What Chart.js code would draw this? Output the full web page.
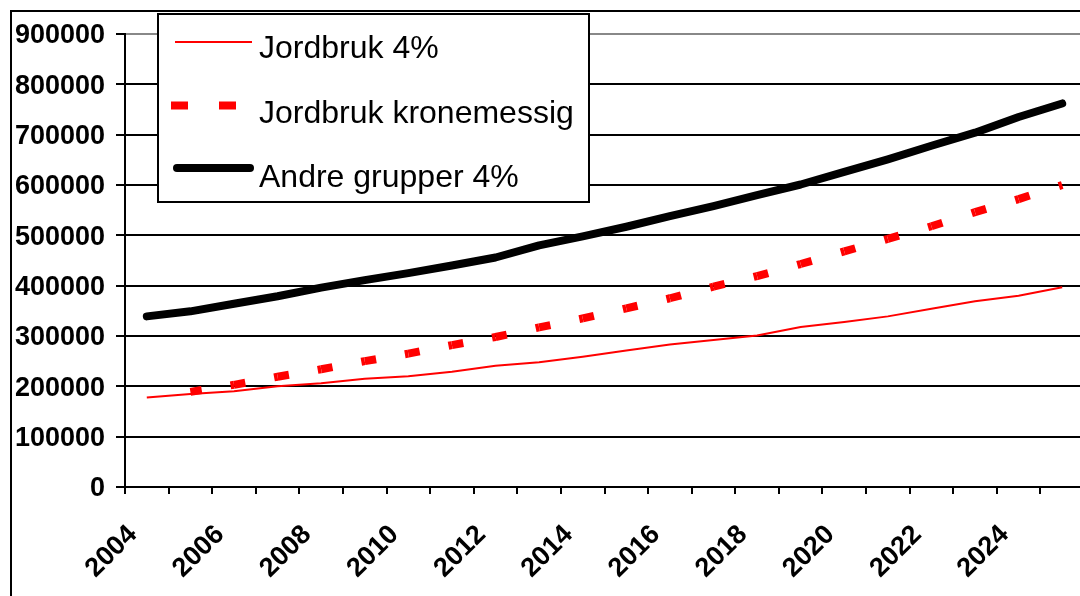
<!DOCTYPE html>
<html>
<head>
<meta charset="utf-8">
<script src="https://cdn.jsdelivr.net/npm/chart.js@4.4.1/dist/chart.umd.min.js"></script>
<style>
  html, body { margin: 0; padding: 0; background: #fff; overflow: hidden; }
  #wrap { width: 1084px; height: 596px; }
</style>
</head>
<body>
<div id="wrap"><canvas id="chart" width="1084" height="596"></canvas></div>
<script>
// --- data ---
const years = ['2004', '2005', '2006', '2007', '2008', '2009', '2010', '2011', '2012', '2013', '2014',
               '2015', '2016', '2017', '2018', '2019', '2020', '2021', '2022', '2023', '2024', '2025'];
const shownYears = ['2004', '2006', '2008', '2010', '2012', '2014', '2016', '2018', '2020', '2022', '2024'];

const jordbruk4 = [178000, 185000, 190000, 200000, 206000, 215000, 220000, 229000, 241000, 248000, 259000,
                   271000, 283000, 292000, 301000, 318000, 328000, 339000, 354000, 369000, 380000, 397000];
const jordbrukKrone = [null, 189000, 203000, 219000, 234000, 250000, 265000, 282000, 298000, 317000, 335000,
                       355000, 375000, 398000, 419000, 443000, 468000, 493000, 518000, 546000, 572000, 600000];
const andreGrupper = [339000, 349000, 364000, 379000, 396000, 411000, 425000, 440000, 456000, 480000, 498000,
                      517000, 538000, 558000, 580000, 601000, 626000, 651000, 678000, 704000, 735000, 762000];

const seriesNames = ['Jordbruk 4%', 'Jordbruk kronemessig', 'Andre grupper 4%'];

const yMin = 0;
const yMax = 900000;
const yStep = 100000;

const tickFont = { family: 'Liberation Sans, Arial, sans-serif', size: 27, weight: 'bold' };

// ytre ramme rundt diagrammet
const frame = {
  id: 'frame',
  beforeDraw(chart) {
    const ctx = chart.ctx;
    ctx.save();
    ctx.fillStyle = '#fff';
    ctx.fillRect(0, 0, chart.width, chart.height);
    ctx.lineWidth = 2;
    ctx.strokeStyle = '#000';
    ctx.strokeRect(11, 11, chart.width + 50, chart.height + 50);
    ctx.restore();
  }
};

// forklaring (legend) som boks oppe til venstre
const legendBox = {
  id: 'legendBox',
  afterDraw(chart) {
    const ctx = chart.ctx;
    const ds = chart.data.datasets;
    ctx.save();
    ctx.fillStyle = '#fff';
    ctx.fillRect(158, 14, 431, 188);
    ctx.lineWidth = 2;
    ctx.strokeStyle = '#000';
    ctx.strokeRect(158, 14, 431, 188);

    const rows = [
      { sampleY: 42, baseY: 58, x0: 175, x1: 252 },
      { sampleY: 105.5, baseY: 122.5, x0: 171, x1: 236 },
      { sampleY: 168, baseY: 186.5, x0: 177, x1: 250 }
    ];
    rows.forEach((r, i) => {
      const d = ds[i];
      ctx.beginPath();
      ctx.strokeStyle = d.borderColor;
      ctx.lineWidth = d.borderWidth;
      ctx.lineCap = d.borderCapStyle || 'butt';
      ctx.setLineDash(i === 1 ? [17, 31] : []);
      ctx.moveTo(r.x0, r.sampleY);
      ctx.lineTo(r.x1, r.sampleY);
      ctx.stroke();
      ctx.setLineDash([]);
      ctx.fillStyle = '#000';
      ctx.font = '32px "Liberation Sans", Arial, sans-serif';
      ctx.textBaseline = 'alphabetic';
      ctx.fillText(d.label, 259, r.baseY);
    });
    ctx.restore();
  }
};

new Chart(document.getElementById('chart'), {
  type: 'line',
  data: {
    labels: years,
    datasets: [
      {
        label: seriesNames[0],
        data: jordbruk4,
        borderColor: '#FF0000',
        borderWidth: 2,
        pointRadius: 0,
        tension: 0
      },
      {
        label: seriesNames[1],
        data: jordbrukKrone,
        borderColor: '#FF0000',
        borderWidth: 8,
        borderCapStyle: 'butt',
        pointRadius: 0,
        tension: 0,
        // streken starter på nytt for hvert linjestykke, som i Excel
        segment: {
          borderDash: ctx => {
            const len = Math.hypot(ctx.p1.x - ctx.p0.x, ctx.p1.y - ctx.p0.y);
            return [15, Math.max(len - 15, 0.1)];
          },
          borderDashOffset: 3.5
        }
      },
      {
        label: seriesNames[2],
        data: andreGrupper,
        borderColor: '#000000',
        borderWidth: 8,
        borderCapStyle: 'round',
        borderJoinStyle: 'round',
        pointRadius: 0,
        tension: 0
      }
    ]
  },
  options: {
    responsive: false,
    animation: false,
    layout: { padding: { top: 34, left: 0, right: 0, bottom: 0 } },
    plugins: {
      legend: { display: false },
      tooltip: { enabled: false }
    },
    scales: {
      x: {
        offset: true,
        afterFit: scale => {
          scale.height = 109;
          scale.paddingLeft = 0;
          scale.paddingRight = 0;
        },
        grid: {
          offset: true,
          drawOnChartArea: false,
          drawTicks: true,
          tickLength: 7,
          color: '#000',
          lineWidth: 2
        },
        border: { display: true, color: '#000', width: 2 },
        ticks: {
          autoSkip: false,
          minRotation: 45,
          maxRotation: 45,
          padding: 25,
          labelOffset: -14,
          color: '#000',
          font: tickFont,
          callback: (v, i) => shownYears.includes(years[i]) ? years[i] : ''
        }
      },
      y: {
        min: yMin,
        max: yMax,
        afterFit: scale => { scale.width = 125; },
        grid: {
          color: ctx => ctx.tick && ctx.tick.value === yMax ? '#888' : '#000',
          tickColor: '#000',
          lineWidth: 2,
          tickLength: 9
        },
        border: { display: true, color: '#000', width: 2 },
        ticks: {
          stepSize: yStep,
          padding: 11,
          labelOffset: 2,
          color: '#000',
          font: tickFont,
          callback: v => String(v)
        }
      }
    }
  },
  plugins: [frame, legendBox]
});
</script>
</body>
</html>
